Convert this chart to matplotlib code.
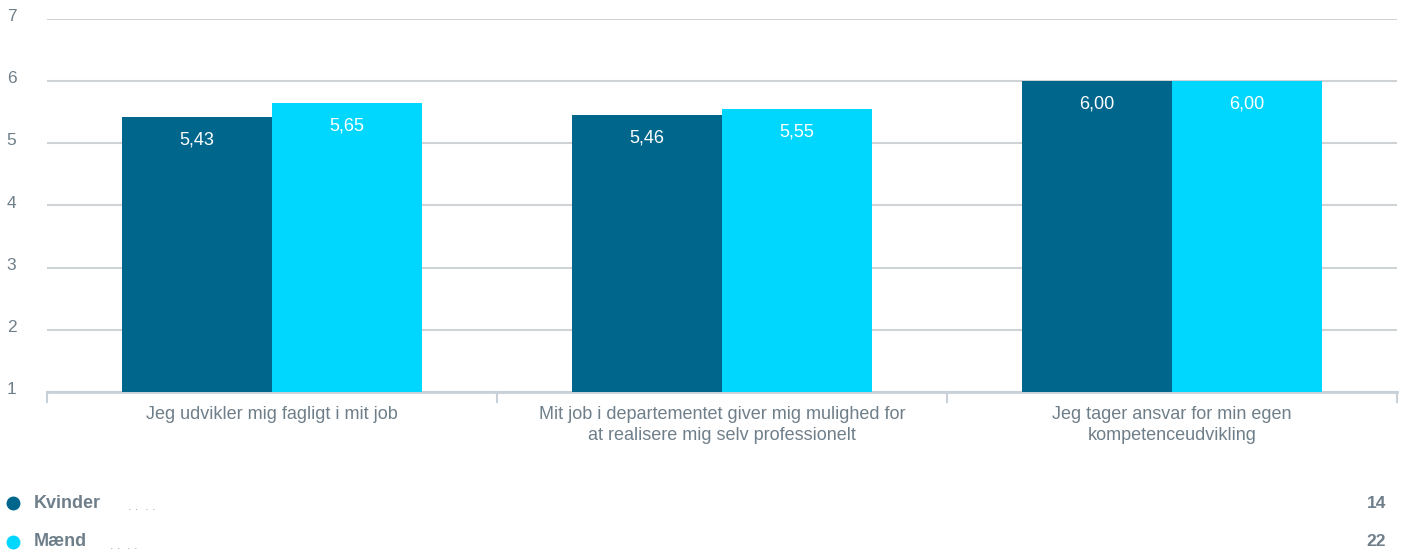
import matplotlib
matplotlib.use("Agg")
import numpy as np
from matplotlib import pyplot as plt
from matplotlib.lines import Line2D
from matplotlib.transforms import ScaledTranslation

categories = [
    "Jeg udvikler mig fagligt i mit job",
    "Mit job i departementet giver mig mulighed for\nat realisere mig selv professionelt",
    "Jeg tager ansvar for min egen\nkompetenceudvikling",
]
kvinder = [5.43, 5.46, 6.00]
maend = [5.65, 5.55, 6.00]
series_names = ["Kvinder", "Mænd"]
series_counts = [14, 22]
colors = ["#00668c", "#00d7ff"]
yticks = [1, 2, 3, 4, 5, 6, 7]

plt.rcParams["font.family"] = ["Liberation Sans", "DejaVu Sans"]
grey = "#6f7f8a"

fig = plt.figure(figsize=(14.04, 5.58), dpi=100)
W, H = 1404, 558
ax = fig.add_axes([47 / W, 166 / H, 1350 / W, 373 / H])

x = np.arange(len(categories))
w = 1 / 3
for i, (vals, c) in enumerate(zip([kvinder, maend], colors)):
    pos = x + (i - 0.5) * w
    bars = ax.bar(pos, np.array(vals) - 1, bottom=1, width=w, color=c, zorder=3)
    for b, v in zip(bars, vals):
        ax.annotate(f"{v:.2f}".replace(".", ","),
                    (b.get_x() + b.get_width() / 2, v),
                    xytext=(0, -23), textcoords="offset pixels",
                    ha="center", va="center", color="white", fontsize=13, zorder=4)

ax.set_xlim(-0.5, len(categories) - 0.5)
ax.set_ylim(1, 7)
ax.set_yticks(yticks)
ax.yaxis.grid(True, color="#d0d3d6", linewidth=1.5, zorder=0)
ax.tick_params(axis="y", length=0, pad=29, labelsize=12.5, labelcolor=grey)
shift = ScaledTranslation(0, 4 / 100, fig.dpi_scale_trans)
for lbl in ax.get_yticklabels():
    lbl.set_horizontalalignment("left")
    lbl.set_transform(lbl.get_transform() + shift)

ax.set_xticks(x)
ax.set_xticklabels(categories, fontsize=13, color=grey, linespacing=1.3)
ax.tick_params(axis="x", length=0, pad=10)
for b in np.arange(len(categories) + 1) - 0.5:
    ax.plot([b, b], [1, 0.84], color="#c8d0d8", linewidth=1.5, clip_on=False, zorder=2)

for s in ["top", "right", "left"]:
    ax.spines[s].set_visible(False)
ax.spines["bottom"].set_color("#c8d0d8")
ax.spines["bottom"].set_linewidth(2)

for i, (name, cnt, c) in enumerate(zip(series_names, series_counts, colors)):
    yy = 1 - (503 + 39 * i) / H
    fig.add_artist(Line2D([13 / W], [yy], marker="o", markersize=9, color=c,
                          linestyle="none", transform=fig.transFigure))
    fig.text(34 / W, yy, name, color=grey, fontsize=13, fontweight="bold", va="center")
    fig.text((128 - 18 * i) / W, yy - 4 / H, ". .  . .", color="#9aa5ad", fontsize=9,
             va="center")
    fig.text(1386 / W, yy, str(cnt), color=grey, fontsize=12.5, fontweight="bold",
             ha="right", va="center")

fig.savefig("out.png", dpi=100)
